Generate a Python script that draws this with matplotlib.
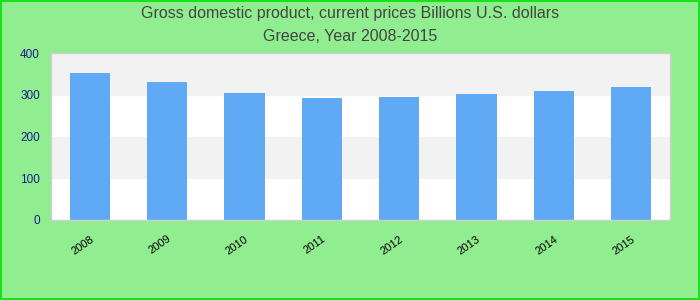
import numpy as np
import matplotlib
matplotlib.use('Agg')
from matplotlib import pyplot as plt
from matplotlib import transforms

plt.rcParams['font.family'] = ['Liberation Sans', 'DejaVu Sans']

years = ['2008', '2009', '2010', '2011', '2012', '2013', '2014', '2015']
gdp = [353, 331, 304, 292, 295, 302, 309, 319]
yticks = [0, 100, 200, 300, 400]

fig = plt.figure(figsize=(7, 3), dpi=100, facecolor='#90ee90')
# green frame around the figure
fig.patches.append(plt.Rectangle((0.001, 0.002), 0.997, 0.995, transform=fig.transFigure,
                                 fill=False, edgecolor='#00e000', linewidth=1.2))

ax = fig.add_axes([0.0729, 0.267, 0.884, 0.556])
ax.set_facecolor('white')
for lo in range(0, 400, 100):
    if (lo // 100) % 2 == 1:
        ax.axhspan(lo, lo + 100, color='#f2f2f2', zorder=0)

x = np.arange(len(years))
ax.bar(x, gdp, width=0.52, color='#60a9f4', zorder=2)

ax.set_xlim(-0.5, len(years) - 0.5)
ax.set_ylim(0, 400)
ax.set_yticks(yticks)
ax.set_yticklabels([str(v) for v in yticks], color='#1a1a8c', fontsize=8.5)
ax.set_xticks(x)
ax.set_xticklabels(years, rotation=35, ha='right', fontsize=8, color='black',
                   rotation_mode='anchor')
shift = transforms.ScaledTranslation(-6 / 100, 0, fig.dpi_scale_trans)
for lbl in ax.get_xticklabels():
    lbl.set_transform(lbl.get_transform() + shift)
ax.tick_params(axis='y', length=0, pad=8)
ax.tick_params(axis='x', length=0, pad=10)
for s in ax.spines.values():
    s.set_color('#d0d0d0')
    s.set_linewidth(1)

fig.text(0.5, 0.955, 'Gross domestic product, current prices Billions U.S. dollars',
         ha='center', va='center', fontsize=11.5, color='#444444')
fig.text(0.5, 0.878, 'Greece, Year 2008-2015', ha='center', va='center',
         fontsize=11.5, color='#444444')

fig.savefig('out.png', dpi=100, facecolor=fig.get_facecolor())
